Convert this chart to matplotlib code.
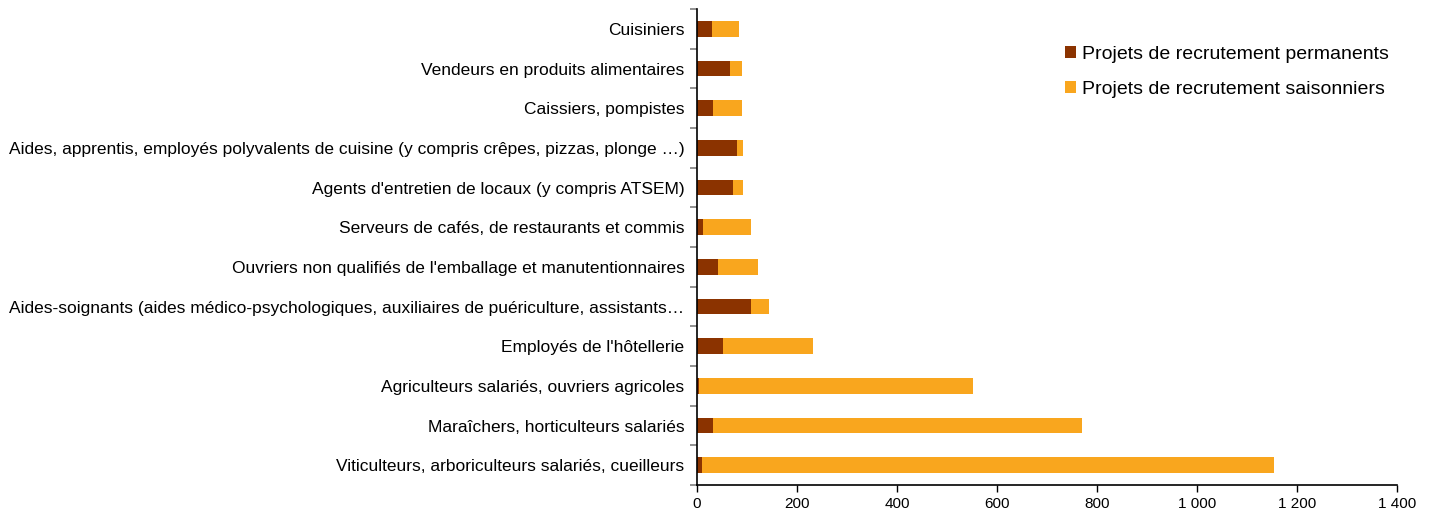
import numpy as np
import matplotlib.pyplot as plt
from matplotlib.ticker import FuncFormatter, FixedLocator

plt.rcParams['font.family'] = ['Liberation Sans', 'DejaVu Sans']

# categories, top to bottom as displayed
metiers = [
    "Cuisiniers",
    "Vendeurs en produits alimentaires",
    "Caissiers, pompistes",
    "Aides, apprentis, employés polyvalents de cuisine (y compris crêpes, pizzas, plonge …)",
    "Agents d'entretien de locaux (y compris ATSEM)",
    "Serveurs de cafés, de restaurants et commis",
    "Ouvriers non qualifiés de l'emballage et manutentionnaires",
    "Aides-soignants (aides médico-psychologiques, auxiliaires de puériculture, assistants…",
    "Employés de l'hôtellerie",
    "Agriculteurs salariés, ouvriers agricoles",
    "Maraîchers, horticulteurs salariés",
    "Viticulteurs, arboriculteurs salariés, cueilleurs",
]
permanents = [29, 65, 32, 79, 71, 11, 42, 107, 51, 3, 31, 9]
totaux = [84, 89, 89, 91, 91, 108, 122, 143, 231, 552, 769, 1154]
saisonniers = [t - p for t, p in zip(totaux, permanents)]

brown = '#8B3300'
orange = '#F9A61E'

fig = plt.figure(figsize=(14.31, 5.11), dpi=100)
ax = fig.add_axes([697 / 1431, 1 - 485 / 511, 700 / 1431, 476 / 511])

y = np.arange(len(metiers))
ax.barh(y, permanents, height=0.4, color=brown, label='Projets de recrutement permanents')
ax.barh(y, saisonniers, left=permanents, height=0.4, color=orange,
        label='Projets de recrutement saisonniers')

ax.set_ylim(len(metiers) - 0.5, -0.5)
ax.set_xlim(0, 1400)
ax.set_yticks(y)
ax.set_yticklabels(metiers, fontsize=12.5)
ax.tick_params(axis='y', length=0, pad=9)
ax.yaxis.set_minor_locator(FixedLocator(np.arange(-0.5, len(metiers), 1)))
ax.tick_params(axis='y', which='minor', length=5, color='#7f7f7f', width=1.2)

ax.set_xticks(np.arange(0, 1401, 200))
ax.xaxis.set_major_formatter(FuncFormatter(lambda v, p: f"{int(v):,}".replace(',', ' ')))
ax.tick_params(axis='x', labelsize=11, length=5, width=1, direction='out')

for s in ['top', 'right']:
    ax.spines[s].set_visible(False)
ax.spines['left'].set_linewidth(1.2)
ax.spines['bottom'].set_linewidth(1.2)

ax.legend(loc='upper right', bbox_to_anchor=(1.014, 0.96), frameon=False, fontsize=14,
          handlelength=0.55, handleheight=0.55, handletextpad=0.35, labelspacing=0.95)

fig.savefig('out.png', dpi=100)
